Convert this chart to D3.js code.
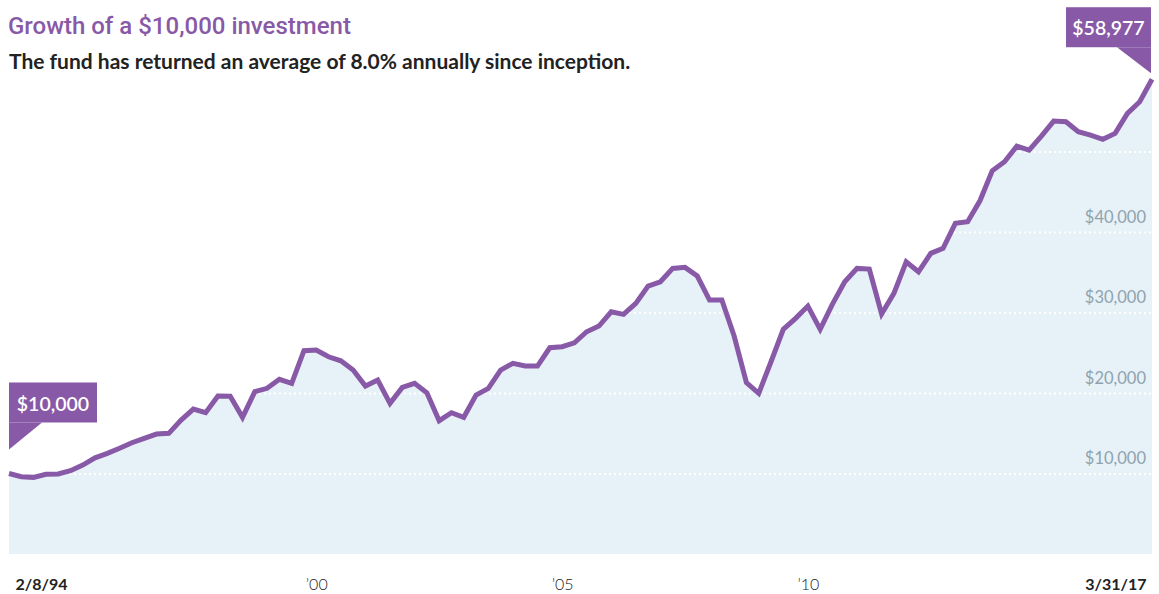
<!DOCTYPE html>
<html>
<head>
<meta charset="utf-8">
<script src="https://cdn.jsdelivr.net/npm/d3@7"></script>
<style>
  body { margin: 0; background: #fff; }
  svg text { font-family: "Lato", "Roboto", sans-serif; }
</style>
</head>
<body>
<div id="chart"></div>
<script>
// quarterly closes, first point is inception day
var dates = [
  "2/8/94", "3/31/94", "6/30/94", "9/30/94", "12/31/94",
  "3/31/95", "6/30/95", "9/30/95", "12/31/95",
  "3/31/96", "6/30/96", "9/30/96", "12/31/96",
  "3/31/97", "6/30/97", "9/30/97", "12/31/97",
  "3/31/98", "6/30/98", "9/30/98", "12/31/98",
  "3/31/99", "6/30/99", "9/30/99", "12/31/99",
  "3/31/00", "6/30/00", "9/30/00", "12/31/00",
  "3/31/01", "6/30/01", "9/30/01", "12/31/01",
  "3/31/02", "6/30/02", "9/30/02", "12/31/02",
  "3/31/03", "6/30/03", "9/30/03", "12/31/03",
  "3/31/04", "6/30/04", "9/30/04", "12/31/04",
  "3/31/05", "6/30/05", "9/30/05", "12/31/05",
  "3/31/06", "6/30/06", "9/30/06", "12/31/06",
  "3/31/07", "6/30/07", "9/30/07", "12/31/07",
  "3/31/08", "6/30/08", "9/30/08", "12/31/08",
  "3/31/09", "6/30/09", "9/30/09", "12/31/09",
  "3/31/10", "6/30/10", "9/30/10", "12/31/10",
  "3/31/11", "6/30/11", "9/30/11", "12/31/11",
  "3/31/12", "6/30/12", "9/30/12", "12/31/12",
  "3/31/13", "6/30/13", "9/30/13", "12/31/13",
  "3/31/14", "6/30/14", "9/30/14", "12/31/14",
  "3/31/15", "6/30/15", "9/30/15", "12/31/15",
  "3/31/16", "6/30/16", "9/30/16", "12/31/16",
  "3/31/17"
]

var values = [
  10000, 9600, 9520, 9900, 9950,
  10350, 11050, 11950, 12500,
  13130, 13820, 14370, 14900,
  14990, 16640, 18010, 17550,
  19620, 19600, 16980, 20160,
  20580, 21700, 21200, 25250,
  25340, 24500, 24000, 22850,
  20870, 21610, 18720, 20700,
  21200, 20030, 16560, 17550,
  16980, 19750, 20580, 22850,
  23690, 23350, 23350, 25620,
  25750, 26240, 27610, 28320,
  30090, 29770, 31140, 33290,
  33820, 35480, 35610, 34530,
  31550, 31550, 27080, 21280,
  19960, 23880, 27910, 29270,
  30800, 27910, 31050, 33820,
  35480, 35400, 29810, 32380,
  36300, 35060, 37350, 37970,
  41070, 41270, 43880, 47610,
  48720, 50670, 50180, 51920,
  53780, 53690, 52450, 52040,
  51510, 52250, 54740, 56180,
  58977
]

var xTicks = ["2/8/94", "3/31/00", "3/31/05", "3/31/10", "3/31/17"]
var xTickLabels = ["2/8/94", "\u201900", "\u201905", "\u201910", "3/31/17"]
var yTicks = [10000, 20000, 30000, 40000, 50000]
var yTickLabels = ["$10,000", "$20,000", "$30,000", "$40,000", ""]

var title = "Growth of a $10,000 investment"
var subtitle = "The fund has returned an average of 8.0% annually since inception."

var purple = "#8859a7"

var dimensions = {
  width: 1159,
  height: 594,
  margin: { top: 71, bottom: 40, right: 7, left: 9 }
}

var svg = d3.select("#chart").append("svg")
  .attr("width", dimensions.width)
  .attr("height", dimensions.height)

var data = dates.map((d, i) => ({ date: d, value: values[i] }))

var xScale = d3.scalePoint()
  .domain(dates)
  .range([dimensions.margin.left, dimensions.width - dimensions.margin.right])

var yScale = d3.scaleLinear()
  .domain([0, 60000])
  .range([dimensions.height - dimensions.margin.bottom, dimensions.margin.top])

// area under the line
var area = d3.area()
  .x(d => xScale(d.date))
  .y0(yScale(0))
  .y1(d => yScale(d.value))

svg.append("path")
  .datum(data)
  .attr("fill", "#e7f1f8")
  .attr("d", area)

// dotted white grid, only shows on top of the fill
var plotW = xScale.range()[1] - xScale.range()[0]
var yAxisGen = d3.axisLeft(yScale)
  .tickValues(yTicks)
  .tickSize(-plotW)
  .tickFormat((d, i) => yTickLabels[i])

var yAxis = svg.append("g")
  .attr("transform", `translate(${xScale.range()[1]},0)`)
  .call(yAxisGen)

yAxis.select(".domain").remove()
yAxis.selectAll(".tick line")
  .attr("transform", `translate(${-plotW},0)`)
  .attr("x2", plotW)
  .attr("stroke", "#fff")
  .attr("stroke-width", 2)
  .attr("stroke-dasharray", "2,3")
yAxis.selectAll(".tick text")
  .attr("x", -6)
  .attr("dy", -10)
  .attr("text-anchor", "end")
  .attr("fill", "#8fa3ad")
  .style("font-size", "16.5px")

// the line
var line = d3.line()
  .x(d => xScale(d.date))
  .y(d => yScale(d.value))

svg.append("path")
  .datum(data)
  .attr("fill", "none")
  .attr("stroke", purple)
  .attr("stroke-width", 5)
  .attr("d", line)

// x axis
var xAxisGen = d3.axisBottom(xScale)
  .tickValues(xTicks)
  .tickSize(0)
  .tickFormat((d, i) => xTickLabels[i])

var xAxis = svg.append("g")
  .attr("transform", `translate(0,${dimensions.height - 4})`)
  .call(xAxisGen)

xAxis.select(".domain").remove()
xAxis.selectAll(".tick text")
  .attr("y", 0)
  .attr("dy", 0)
  .attr("fill", "#222")
  .style("font-size", "16px")
  .style("font-weight", "300")
xAxis.selectAll(".tick text")
  .filter((d, i) => i == 0)
  .attr("text-anchor", "start")
  .attr("x", 6)
  .style("font-weight", "bold")
xAxis.selectAll(".tick text")
  .filter((d, i) => i == xTicks.length - 1)
  .attr("text-anchor", "end")
  .attr("x", -6)
  .style("font-weight", "bold")

// start / end callouts
function callout(px, py, label, side) {
  var g = svg.append("g")
  var w = side == "left" ? 88 : 85
  var boxBottom, pts, bx
  if (side == "left") {
    bx = px
    boxBottom = py - 51
    pts = [[px, boxBottom], [px + 33, boxBottom], [px, boxBottom + 27]]
  } else {
    bx = px - 1 - w
    boxBottom = py - 32
    pts = [[px - 35, boxBottom], [px - 1, boxBottom], [px - 1, boxBottom + 26]]
  }
  g.append("rect")
    .attr("x", bx)
    .attr("y", boxBottom - 40)
    .attr("width", w)
    .attr("height", 40)
    .attr("fill", purple)
  g.append("path")
    .attr("d", "M" + pts.join("L") + "Z")
    .attr("fill", purple)
  g.append("text")
    .attr("x", bx + w / 2)
    .attr("y", boxBottom - 12)
    .attr("text-anchor", "middle")
    .attr("fill", "#fff")
    .style("font-size", "19.5px")
    .style("font-weight", "600")
    .text(label)
}

var first = data[0]
var last = data[data.length - 1]
callout(xScale(first.date), yScale(first.value), d3.format("$,")(first.value), "left")
callout(xScale(last.date), yScale(last.value), d3.format("$,")(last.value), "right")

// titles
svg.append("text")
  .attr("x", 8)
  .attr("y", 34)
  .attr("fill", purple)
  .style("font-family", "Roboto, sans-serif")
  .style("font-size", "24px")
  .style("font-weight", "500")
  .text(title)

svg.append("text")
  .attr("x", 9)
  .attr("y", 69)
  .attr("fill", "#222")
  .style("font-size", "21px")
  .style("font-weight", "bold")
  .text(subtitle)
</script>
</body>
</html>
